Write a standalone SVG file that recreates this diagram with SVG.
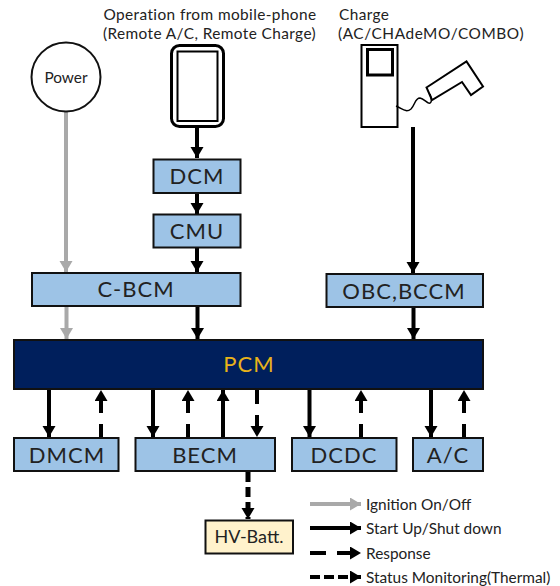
<svg xmlns="http://www.w3.org/2000/svg" width="560" height="586" viewBox="0 0 560 586">
<style>
text{font-family:"Lato","Open Sans","Liberation Sans",sans-serif;fill:#222}
.blk{fill:#9dc3e6;stroke:#111;stroke-width:2}
.lbl{font-size:22px;letter-spacing:1px;text-anchor:middle}
.cap{font-size:15.400px}
.c{fill:none;stroke:#000;stroke-width:4}
.g{stroke:#a9a9a9;marker-end:url(#hg)}
.k{marker-end:url(#hk)}
.r1{stroke-dasharray:13 11}
.r2{stroke-dasharray:14 11}
.s{stroke-dasharray:10 5;stroke-width:5}
.o{fill:none;stroke:#000}
</style>
<defs>
<marker id="hk" markerUnits="userSpaceOnUse" markerWidth="14" markerHeight="14" refX="11" refY="6.5" orient="auto"><path d="M0 0L11 6.500L0 13z" fill="#000"/></marker>
<marker id="hg" markerUnits="userSpaceOnUse" markerWidth="14" markerHeight="14" refX="11" refY="6.5" orient="auto"><path d="M0 0L11 6.500L0 13z" fill="#a9a9a9"/></marker>
</defs>
<g id="connectors">
<path class="c g" d="M66 110V272"/>
<path class="c g" d="M66.500 307V339"/>
<path class="c k" d="M197 127V158"/>
<path class="c k" d="M197 193V214"/>
<path class="c k" d="M197 247V272"/>
<path class="c k" d="M197.500 307V339"/>
<path class="c k" d="M413 127V273"/>
<path class="c k" d="M413.500 307V339"/>
<path class="c k" d="M49 390V437"/>
<path class="c k" d="M153 390V437"/>
<path class="c k" d="M223 437V390"/>
<path class="c k" d="M309.500 390V437"/>
<path class="c k" d="M431 390V437"/>
<path class="c k r1" d="M101 437V390"/>
<path class="c k r1" d="M188 437V390"/>
<path class="c k r1" d="M361 437V390"/>
<path class="c k r1" d="M464 437V390"/>
<path class="c k r2" d="M257 390V437"/>
<path class="c k s" d="M248 472V519"/>
</g>
<g id="power"><circle cx="66" cy="77" r="34.500" fill="#fff" stroke="#111" stroke-width="2"/><text x="66" y="83" text-anchor="middle" class="cap">Power</text></g>
<g id="phone">
<rect class="o" x="171.500" y="45.500" width="52" height="81" rx="8" stroke-width="3"/>
<rect class="o" x="177.500" y="51.500" width="40" height="69.500" stroke-width="2"/>
<text class="cap" x="210" y="20" text-anchor="middle" style="letter-spacing:.4px">Operation from mobile-phone</text>
<text class="cap" x="209.500" y="38.500" text-anchor="middle" style="letter-spacing:.4px">(Remote A/C, Remote Charge)</text>
</g>
<g id="charger">
<rect class="o" x="361.500" y="45" width="36" height="82" stroke-width="2"/>
<rect class="o" x="367.500" y="49.500" width="25" height="25.500" stroke-width="3"/>
<path class="o" stroke-width="2" d="M426.500 87.500L466.500 61.500L483 86.500L471 95L462 82L432 100Z"/>
<path class="o" stroke-width="1.500" d="M396 106C403 109 406 113 411 109C415 105 415 98 420 98C425 99 429 106 431 102C432 100 431 97 430 94"/>
<text class="cap" x="339" y="20" style="letter-spacing:.4px">Charge</text>
<text class="cap" x="338" y="38.500" style="letter-spacing:.55px">(AC/CHAdeMO/COMBO)</text>
</g>
<g id="dcm"><rect class="blk" x="153.500" y="159.500" width="87" height="33.500"/><text class="lbl" x="197" y="184">DCM</text></g>
<g id="cmu"><rect class="blk" x="153.500" y="214.500" width="87" height="33"/><text class="lbl" x="197" y="239">CMU</text></g>
<g id="c-bcm"><rect class="blk" x="32" y="273" width="208.500" height="33"/><text class="lbl" x="136" y="297">C-BCM</text></g>
<g id="obc-bccm"><rect class="blk" x="326.500" y="274" width="156.500" height="33"/><text class="lbl" x="404" y="299">OBC,BCCM</text></g>
<g id="pcm"><rect x="14" y="340" width="469" height="49" fill="#001f5c" stroke="#111" stroke-width="2"/><text x="249" y="372" text-anchor="middle" font-size="22" style="fill:#e8b21a;letter-spacing:1px">PCM</text></g>
<g id="dmcm"><rect class="blk" x="14" y="438" width="104.500" height="33"/><text class="lbl" x="67" y="463">DMCM</text></g>
<g id="becm"><rect class="blk" x="135.500" y="438" width="139.500" height="33"/><text class="lbl" x="205" y="463">BECM</text></g>
<g id="dcdc"><rect class="blk" x="292" y="438" width="104.500" height="33"/><text class="lbl" x="344" y="463">DCDC</text></g>
<g id="ac"><rect class="blk" x="413" y="438" width="70" height="33"/><text class="lbl" x="448" y="463">A/C</text></g>
<g id="hv-batt"><rect x="205.500" y="520.500" width="87.500" height="33" fill="#fff2cc" stroke="#111" stroke-width="2"/><text x="249" y="543" text-anchor="middle" font-size="18">HV-Batt.</text></g>
<g id="legend">
<path class="c g" d="M310 504H361"/>
<path class="c k" d="M310 528H361"/>
<path class="c k" stroke-dasharray="16 11" d="M310 553H361"/>
<path class="c k" stroke-dasharray="10 4" d="M310 577H361"/>
<text class="cap" x="366" y="510">Ignition On/Off</text>
<text class="cap" x="366" y="534">Start Up/Shut down</text>
<text class="cap" x="366" y="559">Response</text>
<text class="cap" x="366" y="583">Status Monitoring(Thermal)</text>
</g>
</svg>
